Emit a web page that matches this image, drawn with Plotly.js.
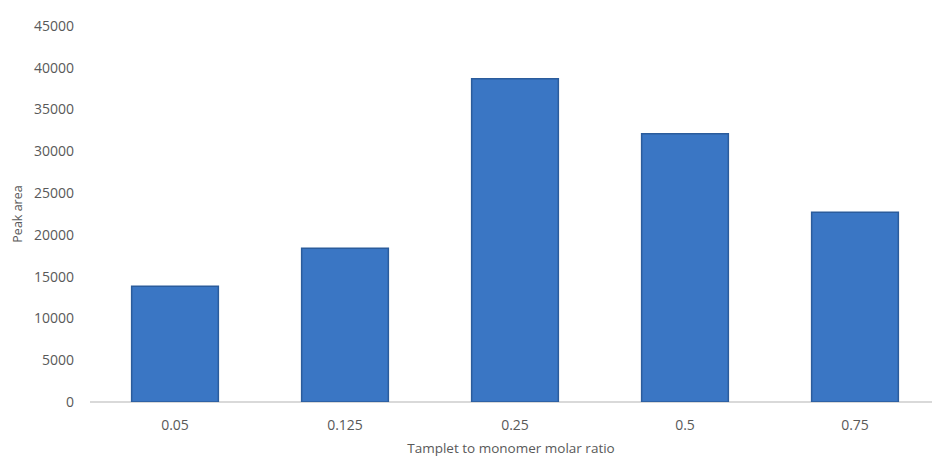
<!DOCTYPE html>
<html>
<head>
<meta charset="utf-8">
<script src="https://cdn.plot.ly/plotly-3.0.1.min.js"></script>
<style>html,body{margin:0;padding:0;background:#fff;}#chart{width:932px;height:460px;}</style>
</head>
<body>
<div id="chart"></div>
<script>
const categories = ["0.05", "0.125", "0.25", "0.5", "0.75"];
const peakArea = [13850, 18400, 38700, 32100, 22700];
const yTicks = [0, 5000, 10000, 15000, 20000, 25000, 30000, 35000, 40000, 45000];
const xTitle = "Tamplet to monomer molar ratio";
const yTitle = "Peak area";

const trace = {
  type: "bar",
  x: categories,
  y: peakArea,
  marker: {
    color: "#3A76C4",
    line: {color: "#2B5C9C", width: 1.5}
  },
  hoverinfo: "skip"
};

const layout = {
  width: 932, height: 460,
  margin: {l: 90, r: 0, t: 26, b: 58},
  paper_bgcolor: "#ffffff",
  plot_bgcolor: "#ffffff",
  bargap: 0.49,
  showlegend: false,
  font: {family: "Open Sans, sans-serif", color: "#595959", size: 14},
  xaxis: {
    type: "category",
    range: [-0.5, 4.453],
    showgrid: false,
    zeroline: false,
    showline: false,
    ticks: "",
    ticklabelstandoff: 13,
    tickfont: {size: 14, color: "#595959"},
    title: {text: xTitle, font: {size: 13.5, color: "#595959"}, standoff: 10}
  },
  yaxis: {
    range: [0, 45000],
    tickvals: yTicks,
    ticktext: yTicks.map(String),
    showgrid: false,
    zeroline: true,
    zerolinecolor: "#d9d9d9",
    zerolinewidth: 1.5,
    showline: false,
    ticks: "",
    ticklabelstandoff: 15,
    tickfont: {size: 14, color: "#595959"},
    title: {text: yTitle, font: {size: 12.5, color: "#595959"}, standoff: 8}
  }
};

Plotly.newPlot("chart", [trace], layout, {displayModeBar: false, staticPlot: true});
</script>
</body>
</html>
